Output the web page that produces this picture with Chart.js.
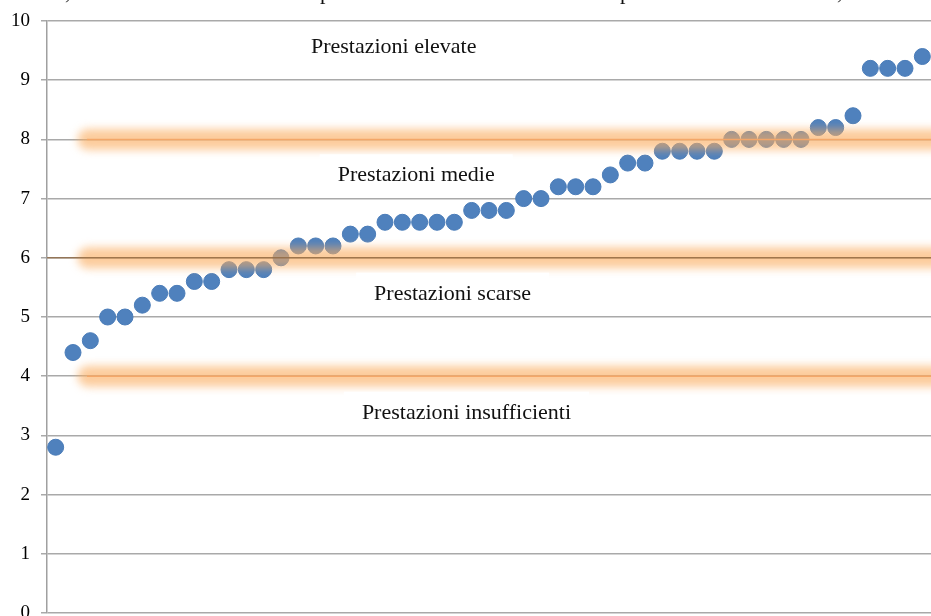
<!DOCTYPE html>
<html lang="it">
<head>
<meta charset="utf-8">
<title>Prestazioni</title>
<script src="https://cdn.jsdelivr.net/npm/chart.js@4"></script>
<style>
  html, body { margin: 0; padding: 0; background: #fff; overflow: hidden; }
  #wrap { position: relative; width: 931px; height: 616px; }
</style>
</head>
<body>
<div id="wrap"><canvas id="scoreChart"></canvas></div>
<script>
// Student scores, sorted ascending (one point per student)
const students = Array.from({ length: 51 }, (_, i) => i + 1);
const scores = [
    2.8, 4.4, 4.6, 5.0, 5.0, 5.2, 5.4, 5.4, 5.6, 5.6,
    5.8, 5.8, 5.8, 6.0, 6.2, 6.2, 6.2, 6.4, 6.4, 6.6,
    6.6, 6.6, 6.6, 6.6, 6.8, 6.8, 6.8, 7.0, 7.0, 7.2,
    7.2, 7.2, 7.4, 7.6, 7.6, 7.8, 7.8, 7.8, 7.8, 8.0,
    8.0, 8.0, 8.0, 8.0, 8.2, 8.2, 8.4, 9.2, 9.2, 9.2, 9.4
];
const yTicks = [0, 1, 2, 3, 4, 5, 6, 7, 8, 9, 10];

// Thresholds between performance bands
const thresholds = [4, 6, 8];
const bandNames = ['Prestazioni insufficienti', 'Prestazioni scarse', 'Prestazioni medie', 'Prestazioni elevate'];

// where each band name sits: [x (student index), y (score)]
const bandNameAt = [[24.7, 3.4], [23.9, 5.41], [21.8, 7.41], [20.5, 9.57]];

// tail of the caption line sitting just above the chart
const captionTail = [[65, ','], [320, 'p'], [620, 'p'], [837, ',']];

const SERIF = '"Liberation Serif", "Times New Roman", serif';

// orange glow lines at each threshold + labels with white backing boxes
const bandPlugin = {
    id: 'bands',
    afterDatasetsDraw(chart) {
        const { ctx, chartArea, scales: { x, y } } = chart;
        ctx.save();
        thresholds.forEach(t => {
            const py = y.getPixelForValue(t);
            ctx.save();
            ctx.filter = 'blur(4px)';
            ctx.strokeStyle = 'rgba(250, 172, 95, 0.62)';
            ctx.lineWidth = 21;
            ctx.lineCap = 'round';
            ctx.beginPath();
            ctx.moveTo(chartArea.left + 41, py);
            ctx.lineTo(chartArea.right + 30, py);
            ctx.stroke();
            ctx.restore();

            ctx.beginPath();
            ctx.lineWidth = 1.5;
            ctx.strokeStyle = t === 6 ? 'rgba(140, 100, 60, 0.75)' : 'rgba(244, 166, 104, 0.95)';
            ctx.moveTo(t === 6 ? chartArea.left : chartArea.left + 40, py);
            ctx.lineTo(chartArea.right, py);
            ctx.stroke();
        });

        ctx.font = '22px ' + SERIF;
        ctx.textAlign = 'center';
        ctx.textBaseline = 'middle';
        bandNames.forEach((name, i) => {
            const cx = x.getPixelForValue(bandNameAt[i][0]);
            const cy = y.getPixelForValue(bandNameAt[i][1]);
            const w = ctx.measureText(name).width;
            ctx.fillStyle = '#fff';
            ctx.fillRect(cx - w / 2 - 18, cy - 20, w + 36, 40);
            ctx.fillStyle = '#111';
            ctx.fillText(name, cx, cy + 1);
        });

        ctx.textAlign = 'left';
        ctx.textBaseline = 'alphabetic';
        captionTail.forEach(([px, ch]) => ctx.fillText(ch, px, -1));
        ctx.restore();
    }
};

let ctx = document.getElementById('scoreChart').getContext('2d');
let scoreChart = new Chart(ctx, {
    type: 'scatter',
    data: {
        datasets: [{
            label: 'Voto',
            data: students.map((s, i) => ({ x: s, y: scores[i] })),
            backgroundColor: '#4f81bd',
            borderColor: '#4a7cb8',
            borderWidth: 1,
            pointRadius: 8,
            pointHoverRadius: 8
        }]
    },
    options: {
        responsive: true,
        maintainAspectRatio: false,
        animation: false,
        layout: { autoPadding: false, padding: { top: 21, bottom: 3, left: 0, right: 0 } },
        plugins: {
            legend: { display: false },
            tooltip: { enabled: false }
        },
        scales: {
            x: {
                type: 'linear',
                min: 0.5,
                max: students.length + 0.5,
                display: false
            },
            y: {
                min: yTicks[0],
                max: yTicks[yTicks.length - 1],
                afterBuildTicks: s => { s.ticks = yTicks.map(v => ({ value: v })); },
                ticks: {
                    color: '#000',
                    padding: 11,
                    font: { family: SERIF, size: 19 }
                },
                grid: { color: '#a9a9a9', lineWidth: 1.5, tickLength: 6 },
                border: { color: '#a0a0a0', width: 1.5 },
                afterFit: s => {
                    s.width = 47;
                    s.paddingTop = 0;
                    s.paddingBottom = 0;
                }
            }
        }
    },
    plugins: [bandPlugin]
});
</script>
</body>
</html>
